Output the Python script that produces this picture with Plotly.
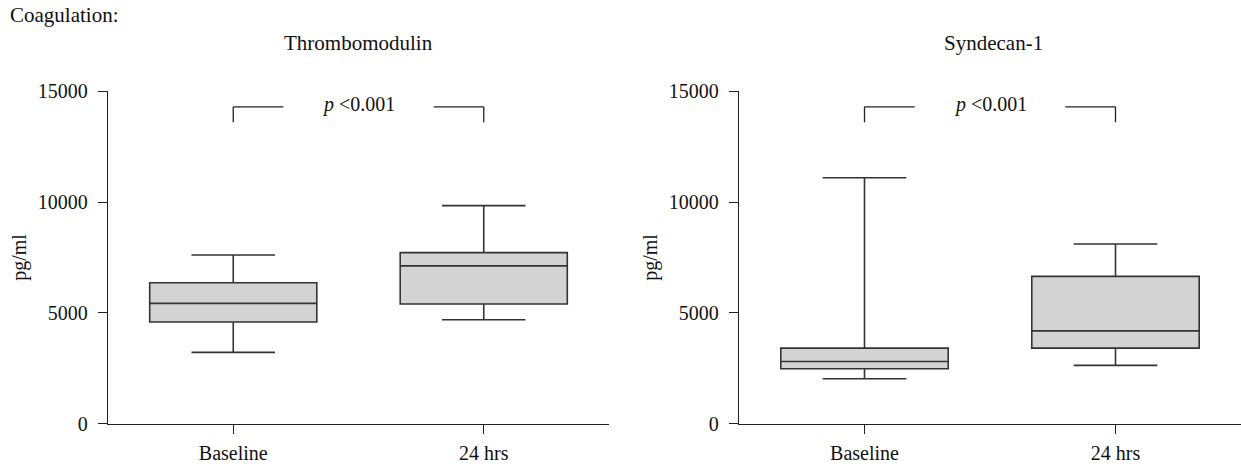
import plotly.graph_objects as go

categories = ["Baseline", "24 hrs"]

# Thrombomodulin (pg/ml)
tm_lower = [3220, 4690]
tm_q1 = [4590, 5400]
tm_median = [5430, 7120]
tm_q3 = [6360, 7720]
tm_upper = [7610, 9840]

# Syndecan-1 (pg/ml)
sd_lower = [2030, 2630]
sd_q1 = [2480, 3410]
sd_median = [2810, 4190]
sd_q3 = [3410, 6650]
sd_upper = [11100, 8110]

yticks = [0, 5000, 10000, 15000]
panel_titles = ["Thrombomodulin", "Syndecan-1"]
p_label = "<i>p</i> <0.001"
bracket_top = 14300
bracket_drop = 13600

FONT = "Liberation Serif"
FS = 20
FT = 21
W, H = 1241, 468

def px(x):
    return x / W

def py(y):
    return 1 - y / H

ydom = [py(423.7), py(91.3)]
xdoms = [[px(108), px(609)], [px(739), px(1241)]]

fig = go.Figure()

panels = [
    (tm_lower, tm_q1, tm_median, tm_q3, tm_upper),
    (sd_lower, sd_q1, sd_median, sd_q3, sd_upper),
]

shapes = []
for i, (lo, q1, med, q3, up) in enumerate(panels):
    xa = "x" if i == 0 else "x2"
    ya = "y" if i == 0 else "y2"
    fig.add_trace(go.Box(
        x=categories, q1=q1, median=med, q3=q3,
        lowerfence=lo, upperfence=up,
        width=0.667, whiskerwidth=0.5,
        fillcolor="#d3d3d3",
        line=dict(color="#333333", width=1.6),
        boxpoints=False, hoverinfo="skip",
        xaxis=xa, yaxis=ya, showlegend=False,
    ))
    # significance bracket (category positions 0 and 1)
    lc = dict(color="#222222", width=1.3)
    shapes += [
        dict(type="line", xref=xa, yref=ya, x0=0, x1=0, y0=bracket_drop, y1=bracket_top, line=lc),
        dict(type="line", xref=xa, yref=ya, x0=0, x1=0.2, y0=bracket_top, y1=bracket_top, line=lc),
        dict(type="line", xref=xa, yref=ya, x0=0.8, x1=1, y0=bracket_top, y1=bracket_top, line=lc),
        dict(type="line", xref=xa, yref=ya, x0=1, x1=1, y0=bracket_top, y1=bracket_drop, line=lc),
    ]

axis_common = dict(
    showline=True, linecolor="#222222", linewidth=1.4,
    ticks="outside", ticklen=9, tickwidth=1.4, tickcolor="#222222",
    showgrid=False, zeroline=False, automargin=False,
    tickfont=dict(family=FONT, size=FS, color="#111111"),
)

ytitle = dict(text="pg/ml", font=dict(family=FONT, size=FS, color="#111111"), standoff=5)

fig.update_layout(
    width=W, height=H,
    margin=dict(l=0, r=0, t=0, b=0, autoexpand=False),
    paper_bgcolor="white", plot_bgcolor="white",
    xaxis=dict(domain=xdoms[0], range=[-0.5, 1.5], type="category",
               anchor="y", ticklabelstandoff=2, **axis_common),
    yaxis=dict(domain=ydom, range=[0, 15000], tickvals=yticks,
               anchor="x", ticklabelstandoff=6, title=ytitle, **axis_common),
    xaxis2=dict(domain=xdoms[1], range=[-0.5, 1.5], type="category",
                anchor="y2", ticklabelstandoff=2, **axis_common),
    yaxis2=dict(domain=ydom, range=[0, 15000], tickvals=yticks,
                anchor="x2", ticklabelstandoff=6, title=ytitle, **axis_common),
    shapes=shapes,
)

fig.update_yaxes(tickformat="d")

annotations = [
    dict(text="Coagulation:", x=px(8), y=py(15), xref="paper", yref="paper",
         xanchor="left", yanchor="middle", showarrow=False,
         font=dict(family=FONT, size=FT, color="#111111")),
    dict(text=panel_titles[0], x=px(358), y=py(43), xref="paper", yref="paper",
         xanchor="center", yanchor="middle", showarrow=False,
         font=dict(family=FONT, size=FT, color="#111111")),
    dict(text=panel_titles[1], x=px(993), y=py(43), xref="paper", yref="paper",
         xanchor="center", yanchor="middle", showarrow=False,
         font=dict(family=FONT, size=FT, color="#111111")),
    dict(text=p_label, x=0.5, y=bracket_top + 100, xref="x", yref="y",
         xanchor="center", yanchor="middle", showarrow=False,
         font=dict(family=FONT, size=FS, color="#111111")),
    dict(text=p_label, x=0.5, y=bracket_top + 100, xref="x2", yref="y2",
         xanchor="center", yanchor="middle", showarrow=False,
         font=dict(family=FONT, size=FS, color="#111111")),
]
fig.update_layout(annotations=annotations)

fig.write_html("out.html")
